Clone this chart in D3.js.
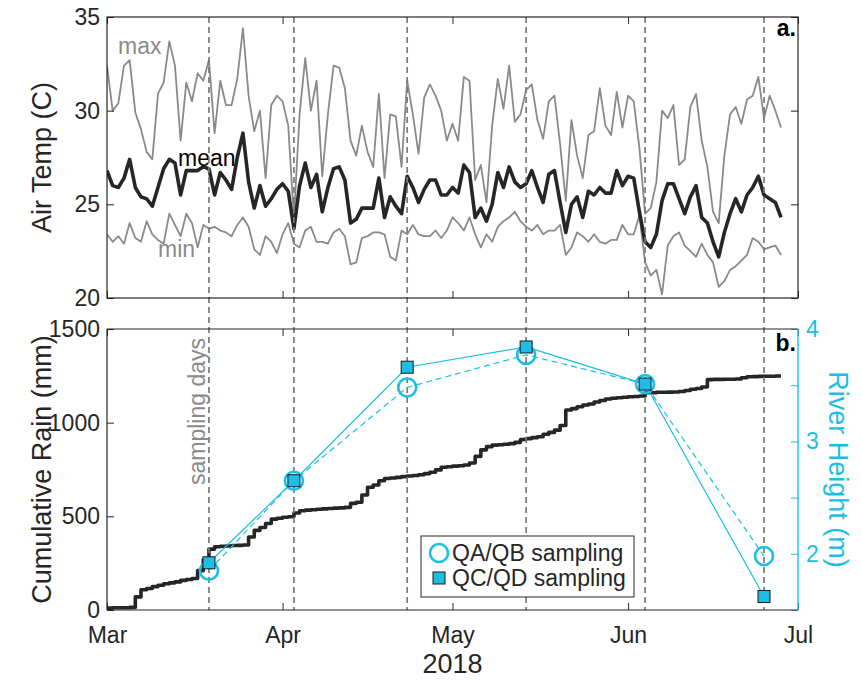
<!DOCTYPE html>
<html>
<head>
<meta charset="utf-8">
<script src="https://cdn.jsdelivr.net/npm/d3@7"></script>
<style>
  html, body { margin: 0; padding: 0; background: #fff; }
  svg { display: block; font-family: "Liberation Sans", Arial, Helvetica, sans-serif; }
</style>
</head>
<body>
<svg id="chart" width="862" height="680"></svg>
<script>
// ---------------- DATA ----------------
const startDate = "2018-03-01";            // first day of daily records
const monthTicks = ["2018-03-01", "2018-04-01", "2018-05-01", "2018-06-01", "2018-07-01"];
const monthLabels = ["Mar", "Apr", "May", "Jun", "Jul"];
const yearLabel = "2018";

const tempMax = [32.4, 30.0, 30.4, 32.4, 32.7, 29.9, 29.0, 27.8, 27.4, 30.9,
  31.5, 33.7, 32.4, 28.4, 31.5, 30.5, 32.0, 31.6, 32.7, 28.8,
  31.6, 30.3, 30.3, 31.7, 34.4, 30.8, 28.9, 30.0, 26.4, 30.3,
  30.8, 30.5, 29.2, 24.2, 29.8, 32.8, 30.0, 31.6, 26.5, 29.8,
  32.4, 32.3, 31.2, 28.4, 27.6, 29.2, 27.8, 27.0, 30.9, 26.4,
  29.8, 29.7, 27.0, 31.6, 29.8, 27.7, 30.7, 31.4, 30.8, 30.0,
  28.4, 29.3, 28.4, 31.8, 31.6, 26.3, 27.1, 25.1, 29.2, 31.7,
  30.1, 32.4, 29.4, 29.8, 31.1, 31.4, 29.5, 28.5, 30.5, 30.8,
  28.2, 25.2, 29.5, 27.6, 26.4, 28.7, 28.9, 31.2, 29.2, 28.7,
  31.0, 29.1, 30.8, 30.5, 28.0, 24.5, 24.8, 26.2, 30.0, 29.6,
  30.3, 27.1, 27.4, 30.2, 30.9, 28.4, 27.0, 24.6, 24.0, 27.6,
  29.8, 30.2, 29.3, 30.6, 30.8, 31.8, 29.6, 30.8, 30.0, 29.1];

const tempMean = [26.8, 26.0, 25.9, 26.4, 27.4, 25.9, 25.4, 25.3, 24.9, 25.9,
  26.9, 27.4, 27.2, 25.5, 26.8, 26.8, 26.8, 27.0, 26.9, 25.5,
  26.7, 26.3, 25.8, 27.5, 28.8, 26.2, 24.8, 26.0, 24.9, 25.3,
  25.8, 26.1, 25.7, 23.7, 26.0, 27.2, 25.9, 26.6, 24.6, 25.9,
  26.9, 27.0, 26.3, 24.0, 24.2, 24.8, 24.8, 24.8, 26.4, 24.3,
  25.4, 24.9, 24.5, 26.5, 25.9, 25.1, 25.8, 26.3, 26.3, 25.5,
  25.5, 25.9, 25.6, 27.1, 26.7, 24.3, 24.8, 24.1, 25.0, 26.7,
  25.9, 27.0, 26.2, 25.9, 26.1, 26.8, 25.9, 25.1, 26.6, 26.8,
  25.1, 23.5, 25.0, 25.4, 24.3, 25.7, 25.5, 25.9, 25.6, 25.6,
  26.8, 26.0, 26.5, 26.4, 24.6, 23.0, 22.7, 23.4, 25.2, 26.1,
  26.1, 25.3, 24.5, 25.4, 26.0, 24.3, 24.0, 23.0, 22.2, 23.5,
  24.5, 25.3, 24.6, 25.5, 25.9, 26.5, 25.5, 25.3, 25.1, 24.3];

const tempMin = [23.4, 23.0, 23.3, 22.9, 24.0, 23.2, 23.0, 24.1, 23.4, 23.1,
  22.9, 24.5, 23.9, 23.3, 24.5, 24.0, 22.7, 23.9, 23.7, 23.8,
  23.6, 23.5, 23.3, 23.9, 24.3, 23.8, 22.6, 22.3, 23.3, 23.0,
  22.4, 23.4, 24.0, 22.9, 22.7, 23.6, 23.8, 23.0, 23.0, 22.9,
  23.5, 23.7, 23.3, 21.8, 21.9, 23.2, 23.3, 23.5, 23.5, 23.4,
  22.2, 22.0, 23.6, 23.4, 23.9, 23.4, 23.3, 23.3, 23.6, 23.2,
  23.6, 24.3, 24.0, 23.6, 24.3, 23.4, 22.7, 23.4, 23.0, 23.8,
  24.1, 24.3, 24.6, 24.1, 23.8, 23.6, 23.9, 23.4, 23.6, 23.6,
  23.9, 22.3, 22.7, 23.5, 23.3, 23.0, 23.4, 23.0, 22.9, 23.1,
  23.1, 23.9, 23.4, 23.4, 24.4, 21.9, 21.2, 21.5, 20.2, 22.8,
  23.3, 23.5, 22.8, 22.5, 22.2, 22.9, 22.3, 21.9, 20.6, 20.9,
  21.5, 21.7, 22.0, 22.3, 23.2, 23.0, 22.6, 22.7, 22.8, 22.3];

const cumRain = [10, 12, 12, 12, 14, 70, 108, 115, 125, 132,
  140, 145, 150, 158, 163, 168, 210, 268, 325, 338,
  340, 342, 344, 345, 347, 390, 425, 440, 462, 485,
  490, 495, 498, 518, 530, 533, 535, 538, 540, 542,
  544, 545, 548, 569, 575, 614, 655, 667, 690, 702,
  705, 708, 712, 715, 718, 722, 728, 735, 748, 762,
  765, 768, 770, 774, 785, 820, 855, 872, 880, 882,
  885, 888, 895, 910, 915, 920, 925, 938, 948, 960,
  985, 1068, 1075, 1085, 1094, 1100, 1110, 1118, 1126, 1130,
  1133, 1136, 1138, 1140, 1142, 1160, 1160, 1162, 1162, 1163,
  1164, 1166, 1172, 1178, 1182, 1190, 1230, 1231, 1231, 1232,
  1232, 1233, 1240, 1245, 1246, 1247, 1248, 1248, 1249, 1249];

const samplingDays = ["2018-03-19", "2018-04-03", "2018-04-23", "2018-05-14", "2018-06-04", "2018-06-25"];
const heightQAQB = [1.85, 2.65, 3.48, 3.77, 3.51, 1.98];
const heightQCQD = [1.92, 2.65, 3.66, 3.84, 3.51, 1.62];

const tempTicks = [20, 25, 30, 35];
const rainTicks = [0, 500, 1000, 1500];
const heightTicks = [1.5, 2, 2.5, 3, 3.5, 4];

// ---------------- LAYOUT ----------------
const parse = d3.utcParse("%Y-%m-%d");
const svg = d3.select("#chart");
const L = 107, R = 798;
const aTop = 17, aBot = 298, bTop = 329, bBot = 610;
const axisCol = "#262626", grayLine = "#8a8a8a", cyan = "#1cbfe3";
const fs = 23, fsLabel = 27;

const x = d3.scaleUtc().domain([parse(monthTicks[0]), parse(monthTicks[monthTicks.length - 1])]).range([L, R]);
const yT = d3.scaleLinear().domain([20, 35]).range([aBot, aTop]);
const yR = d3.scaleLinear().domain([0, 1500]).range([bBot, bTop]);
const yH = d3.scaleLinear().domain([1.5, 4]).range([bBot, bTop]);

const t0 = parse(startDate);
const dayDate = i => d3.utcDay.offset(t0, i);
const sampDates = samplingDays.map(parse);
const monthDates = monthTicks.map(parse);

const defs = svg.append("defs");
defs.append("clipPath").attr("id", "clipA").append("rect").attr("x", L).attr("y", aTop).attr("width", R - L).attr("height", aBot - aTop);

// ---------------- PANEL A ----------------
const gA = svg.append("g");
const lineT = arr => d3.line().x((d, i) => x(dayDate(i))).y(d => yT(d))(arr);
const gAd = gA.append("g").attr("clip-path", "url(#clipA)");
gAd.append("path").attr("d", lineT(tempMax)).attr("fill", "none").attr("stroke", grayLine).attr("stroke-width", 1.8).attr("stroke-linejoin", "round");
gAd.append("path").attr("d", lineT(tempMin)).attr("fill", "none").attr("stroke", grayLine).attr("stroke-width", 1.8).attr("stroke-linejoin", "round");
gAd.append("path").attr("d", lineT(tempMean)).attr("fill", "none").attr("stroke", "#262626").attr("stroke-width", 3.6).attr("stroke-linejoin", "round");

gA.append("text").attr("x", 118).attr("y", 54).attr("font-size", fs).attr("fill", grayLine).text("max");
gA.append("text").attr("x", 178).attr("y", 166).attr("font-size", fs).attr("fill", "#000").text("mean");
gA.append("text").attr("x", 158).attr("y", 257).attr("font-size", fs).attr("fill", grayLine).text("min");

// ---------------- PANEL B ----------------
const gB = svg.append("g");
const lineRain = d3.line().curve(d3.curveStepAfter).x((d, i) => x(dayDate(i))).y(d => yR(d));
gB.append("path").attr("d", lineRain(cumRain)).attr("fill", "none").attr("stroke", "#262626").attr("stroke-width", 3.6).attr("stroke-linejoin", "round");

// sampling day lines across both panels
svg.append("g").selectAll("line").data(sampDates).join("line")
  .attr("x1", d => x(d)).attr("x2", d => x(d))
  .attr("y1", aTop).attr("y2", bBot)
  .attr("stroke", "#7a7a7a").attr("stroke-width", 1.7).attr("stroke-dasharray", "6,4");

// river heights
const lineH = d3.line().x((d, i) => x(sampDates[i])).y(d => yH(d));
const gH = svg.append("g");
gH.append("path").attr("d", lineH(heightQAQB)).attr("fill", "none").attr("stroke", cyan).attr("stroke-width", 1.2).attr("stroke-dasharray", "6,4");
gH.append("path").attr("d", lineH(heightQCQD)).attr("fill", "none").attr("stroke", cyan).attr("stroke-width", 1.2);
gH.selectAll("circle").data(heightQAQB).join("circle")
  .attr("cx", (d, i) => x(sampDates[i])).attr("cy", d => yH(d)).attr("r", 9)
  .attr("fill", "none").attr("stroke", cyan).attr("stroke-width", 2.6);
gH.selectAll("rect.sq").data(heightQCQD).join("rect").attr("class", "sq")
  .attr("x", (d, i) => x(sampDates[i]) - 6).attr("y", d => yH(d) - 6)
  .attr("width", 12).attr("height", 12)
  .attr("fill", cyan).attr("stroke", "#1a1a1a").attr("stroke-width", 1);

svg.append("text").attr("transform", `translate(${x(sampDates[0]) - 4},${bTop + 156}) rotate(-90)`)
  .attr("font-size", fs).attr("fill", grayLine).text("sampling days");

// ---------------- AXES ----------------
function styleAxis(g, col) {
  g.select(".domain").remove();
  g.selectAll(".tick line").attr("stroke", col).attr("stroke-width", 1);
  g.selectAll(".tick text").attr("fill", col).attr("font-size", fs).attr("font-family", "Liberation Sans, Arial, sans-serif");
}
const intFmt = d3.format("d");

const axALeft = svg.append("g").attr("transform", `translate(${L},0)`)
  .call(d3.axisLeft(yT).tickValues(tempTicks).tickSize(-7).tickPadding(7).tickFormat(intFmt));
styleAxis(axALeft, axisCol);
const axARight = svg.append("g").attr("transform", `translate(${R},0)`)
  .call(d3.axisRight(yT).tickValues(tempTicks).tickSize(-7).tickFormat(""));
styleAxis(axARight, axisCol);
const axABot = svg.append("g").attr("transform", `translate(0,${aBot})`)
  .call(d3.axisBottom(x).tickValues(monthDates).tickSize(-7).tickFormat(""));
styleAxis(axABot, axisCol);
const axATop = svg.append("g").attr("transform", `translate(0,${aTop})`)
  .call(d3.axisTop(x).tickValues(monthDates).tickSize(-7).tickFormat(""));
styleAxis(axATop, axisCol);
svg.append("rect").attr("x", L).attr("y", aTop).attr("width", R - L).attr("height", aBot - aTop)
  .attr("fill", "none").attr("stroke", axisCol).attr("stroke-width", 1.2);

const axBLeft = svg.append("g").attr("transform", `translate(${L},0)`)
  .call(d3.axisLeft(yR).tickValues(rainTicks).tickSize(-7).tickPadding(7).tickFormat(intFmt));
styleAxis(axBLeft, axisCol);
const axBBot = svg.append("g").attr("transform", `translate(0,${bBot})`)
  .call(d3.axisBottom(x).tickValues(monthDates).tickSize(-7).tickPadding(17)
    .tickFormat((d, i) => monthLabels[i]));
styleAxis(axBBot, axisCol);
const axBTop = svg.append("g").attr("transform", `translate(0,${bTop})`)
  .call(d3.axisTop(x).tickValues(monthDates).tickSize(-7).tickFormat(""));
styleAxis(axBTop, axisCol);
const axBRight = svg.append("g").attr("transform", `translate(${R},0)`)
  .call(d3.axisRight(yH).tickValues(heightTicks).tickSize(-7).tickPadding(8)
    .tickFormat(d => Number.isInteger(d) ? intFmt(d) : ""));
styleAxis(axBRight, cyan);
svg.append("line").attr("x1", L).attr("x2", R).attr("y1", bTop).attr("y2", bTop).attr("stroke", axisCol).attr("stroke-width", 1.2);
svg.append("line").attr("x1", L).attr("x2", R).attr("y1", bBot).attr("y2", bBot).attr("stroke", axisCol).attr("stroke-width", 1.2);
svg.append("line").attr("x1", L).attr("x2", L).attr("y1", bTop).attr("y2", bBot).attr("stroke", axisCol).attr("stroke-width", 1.2);
svg.append("line").attr("x1", R).attr("x2", R).attr("y1", bTop).attr("y2", bBot).attr("stroke", cyan).attr("stroke-width", 1.4);

// axis titles
svg.append("text").attr("transform", `translate(51,${(aTop + aBot) / 2}) rotate(-90)`)
  .attr("text-anchor", "middle").attr("font-size", fsLabel).attr("fill", axisCol).text("Air Temp (C)");
svg.append("text").attr("transform", `translate(51,${(bTop + bBot) / 2}) rotate(-90)`)
  .attr("text-anchor", "middle").attr("font-size", fsLabel).attr("fill", axisCol).text("Cumulative Rain (mm)");
svg.append("text").attr("transform", `translate(829,${(bTop + bBot) / 2}) rotate(90)`)
  .attr("text-anchor", "middle").attr("font-size", fsLabel).attr("fill", cyan).text("River Height (m)");
svg.append("text").attr("x", (L + R) / 2).attr("y", 673)
  .attr("text-anchor", "middle").attr("font-size", fsLabel).attr("fill", axisCol).text(yearLabel);

svg.append("text").attr("x", 796).attr("y", 36).attr("text-anchor", "end").attr("font-size", fs).attr("font-weight", "bold").attr("fill", "#000").text("a.");
svg.append("text").attr("x", 796).attr("y", 351).attr("text-anchor", "end").attr("font-size", fs).attr("font-weight", "bold").attr("fill", "#000").text("b.");

// ---------------- LEGEND ----------------
const lg = svg.append("g");
lg.append("rect").attr("x", 421).attr("y", 536).attr("width", 213).attr("height", 61)
  .attr("fill", "#fff").attr("stroke", axisCol).attr("stroke-width", 1);
lg.append("circle").attr("cx", 439).attr("cy", 553).attr("r", 9)
  .attr("fill", "none").attr("stroke", cyan).attr("stroke-width", 2.6);
lg.append("rect").attr("x", 433).attr("y", 572).attr("width", 12).attr("height", 12)
  .attr("fill", cyan).attr("stroke", "#1a1a1a").attr("stroke-width", 1);
lg.append("text").attr("x", 452).attr("y", 561).attr("font-size", fs).attr("fill", axisCol).text("QA/QB sampling");
lg.append("text").attr("x", 452).attr("y", 586).attr("font-size", fs).attr("fill", axisCol).text("QC/QD sampling");
</script>
</body>
</html>
